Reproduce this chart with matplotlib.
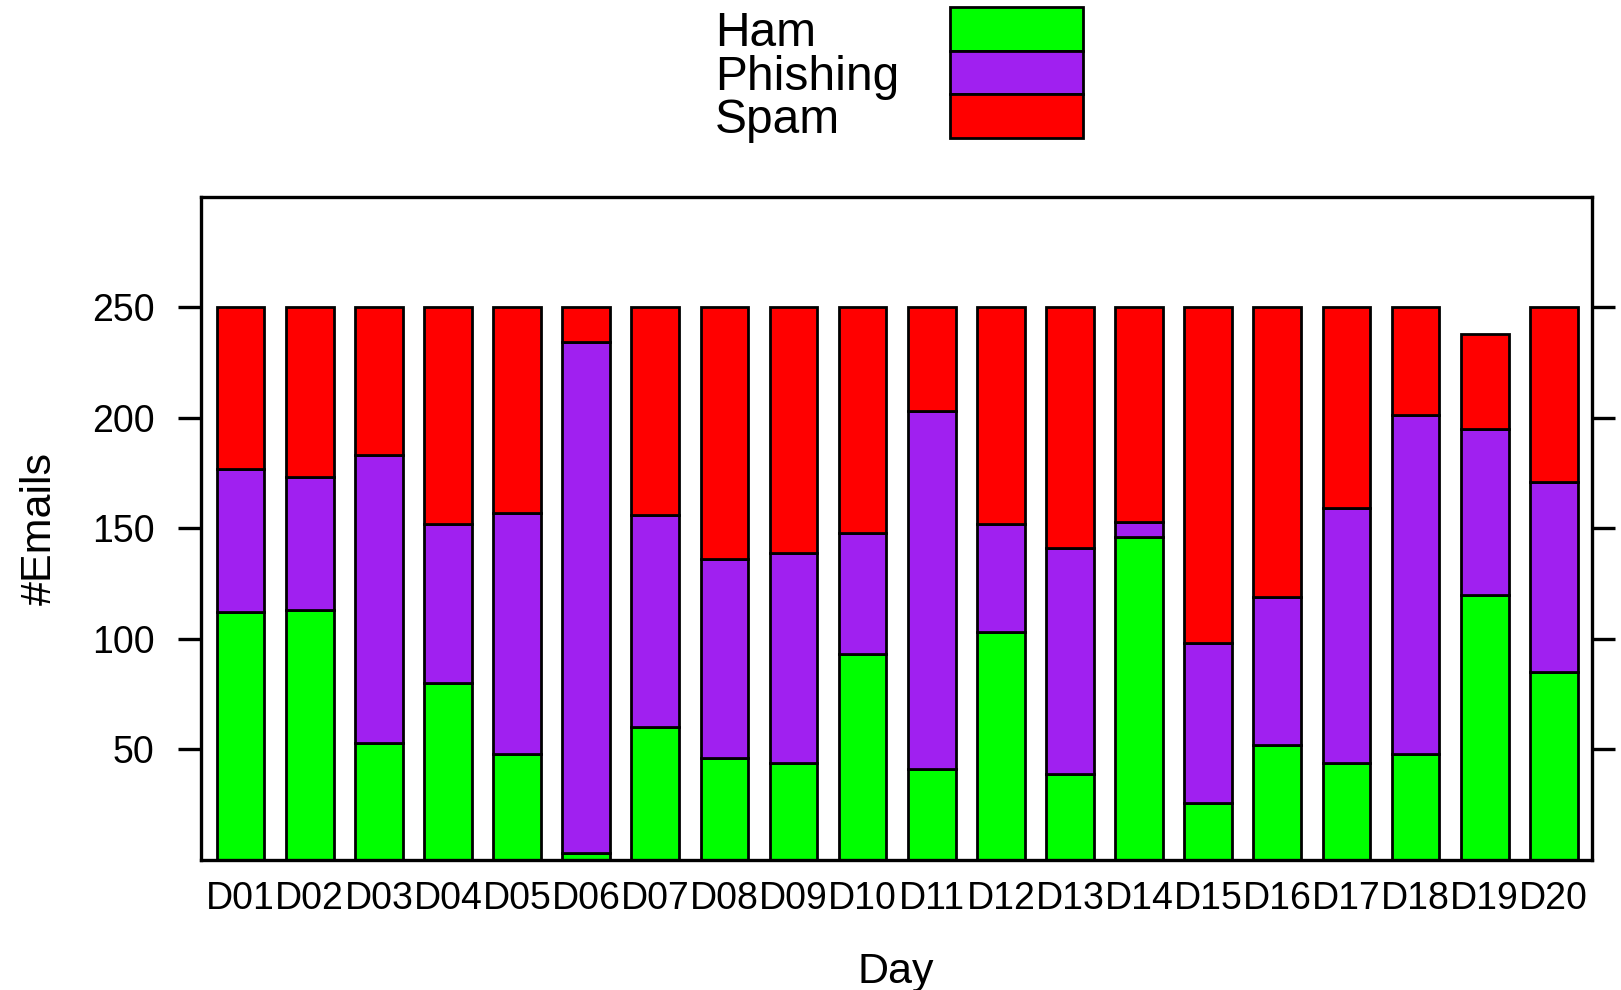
import numpy as np
import matplotlib
matplotlib.use("Agg")
import matplotlib.pyplot as plt
from matplotlib.patches import Rectangle

plt.rcParams["font.family"] = ["Liberation Sans", "DejaVu Sans"]

# Data
days = [f"D{i:02d}" for i in range(1, 21)]
ham      = [112, 113, 53, 80, 48, 3, 60, 46, 44, 93, 41, 103, 39, 146, 26, 52, 44, 48, 120, 85]
phishing = [65, 60, 130, 72, 109, 231, 96, 90, 95, 55, 162, 49, 102, 7, 72, 67, 115, 153, 75, 86]
spam     = [73, 77, 67, 98, 93, 16, 94, 114, 111, 102, 47, 98, 109, 97, 152, 131, 91, 49, 43, 79]
series_names = ["Ham", "Phishing", "Spam"]
colors = ["#00FF00", "#A020F0", "#FF0000"]
yticks = [50, 100, 150, 200, 250]

fig = plt.figure(figsize=(16.21, 9.90), dpi=100)
ax = fig.add_axes([0.1237, 0.1313, 0.982 - 0.1237, 0.8015 - 0.1313])

x = np.arange(1, len(days) + 1)
bottom = np.zeros(len(days))
for vals, col in zip([ham, phishing, spam], colors):
    ax.bar(x, vals, width=0.69, bottom=bottom, color=col,
           edgecolor="black", linewidth=2)
    bottom += np.array(vals)

ax.set_xlim(0.42, 20.55)
ax.set_ylim(0, 300)
ax.set_xticks(x)
ax.set_xticklabels(days, fontsize=27)
ax.set_yticks(yticks)
ax.set_yticklabels([str(t) for t in yticks], fontsize=27)
ax.tick_params(axis="x", length=0, pad=15)
ax.tick_params(axis="y", direction="out", length=16.5, width=2.4, pad=16.5,
               right=True, labelright=False)
for s in ax.spines.values():
    s.set_linewidth(2.4)

ax.set_xlabel("Day", fontsize=31)
ax.set_ylabel("#Emails", fontsize=31)
ax.xaxis.set_label_coords(0.5, -0.138)
ax.yaxis.set_label_coords(-0.101, 0.5)

# legend: labels on the left, stacked colour boxes on the right
W, H = 1621, 990
row_tops = [7, 50.7, 94]
box_h = 43.5
for name, col, top in zip(series_names, colors, row_tops):
    fig.add_artist(Rectangle((950 / W, 1 - (top + box_h) / H), 132.5 / W, box_h / H,
                             transform=fig.transFigure, facecolor=col,
                             edgecolor="black", linewidth=2))
    fig.text(715 / W, 1 - (top + box_h / 2 + 5) / H, name, fontsize=34.5,
             ha="left", va="center")

fig.savefig("out.png", dpi=100)
